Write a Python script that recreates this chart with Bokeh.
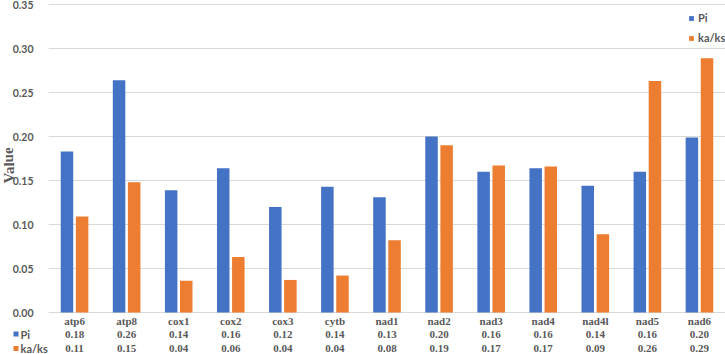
from bokeh.core.properties import value
from bokeh.embed import file_html
from bokeh.layouts import row
from bokeh.models import ColumnDataSource, FactorRange, FixedTicker, Range1d
from bokeh.plotting import figure
from bokeh.resources import INLINE
from bokeh.transform import dodge

# Mitochondrial genes with nucleotide diversity (Pi) and ka/ks ratio
genes = ["atp6", "atp8", "cox1", "cox2", "cox3", "cytb", "nad1",
         "nad2", "nad3", "nad4", "nad4l", "nad5", "nad6"]
pi_values = [0.183, 0.264, 0.139, 0.164, 0.120, 0.143, 0.131,
             0.200, 0.160, 0.164, 0.144, 0.160, 0.199]
kaks_values = [0.109, 0.148, 0.036, 0.063, 0.037, 0.042, 0.082,
               0.190, 0.167, 0.166, 0.089, 0.263, 0.289]
series_names = ["Pi", "ka/ks"]
y_ticks = [0.00, 0.05, 0.10, 0.15, 0.20, 0.25, 0.30, 0.35]

BLUE = "#4472C4"
ORANGE = "#ED7D31"
GREY = "#595959"
SANS = "Lato"
SERIF = "Liberation Serif"

# page geometry (pixels)
TOTAL_W, TOTAL_H = 725, 354
LEFT_W = 48              # strip holding the value labels and row headers
TOP_GAP = 4              # space above the 0.35 grid line
BAR_AREA_H = 308         # height used by the 0 .. 0.35 value span
Y_MAX = 0.35
PX_PER_UNIT = BAR_AREA_H / Y_MAX
Y_TOP = Y_MAX + TOP_GAP / PX_PER_UNIT
Y_BOTTOM = -(TOTAL_H - TOP_GAP - BAR_AREA_H) / PX_PER_UNIT   # room for the table


def below_zero(px):
    """Vertical offset (in pixels under the zero line) as a value coordinate."""
    return -px / PX_PER_UNIT


GENE_ROW, PI_ROW, KAKS_ROW = below_zero(8), below_zero(21.5), below_zero(36)

source = ColumnDataSource(dict(
    gene=genes, pi=pi_values, kaks=kaks_values,
    pi_txt=[f"{v:.2f}" for v in pi_values],
    kaks_txt=[f"{v:.2f}" for v in kaks_values],
))

# ---------------- bar chart with data table underneath ----------------
p = figure(
    x_range=FactorRange(factors=genes),
    y_range=Range1d(Y_BOTTOM, Y_TOP),
    width=TOTAL_W - LEFT_W, height=TOTAL_H,
    output_backend="svg", toolbar_location=None,
    x_axis_location=None, y_axis_location=None,
    min_border=0,
)
p.outline_line_color = None

p.vbar(x=dodge("gene", -0.145, range=p.x_range), top="pi", width=0.24,
       source=source, fill_color=BLUE, line_color=None, legend_label=series_names[0])
p.vbar(x=dodge("gene", 0.145, range=p.x_range), top="kaks", width=0.24,
       source=source, fill_color=ORANGE, line_color=None, legend_label=series_names[1])

for g in p.ygrid:
    g.ticker = FixedTicker(ticks=y_ticks)
    g.grid_line_color = "#d9d9d9"
    g.grid_line_width = 1
for g in p.xgrid:
    g.visible = False

table_style = dict(text_font=value(SERIF), text_font_style="bold",
                   text_font_size="11px", text_color=GREY,
                   text_align="center", text_baseline="middle")
p.text(x="gene", y=GENE_ROW, text="gene", source=source, **table_style)
p.text(x="gene", y=PI_ROW, text="pi_txt", source=source, **table_style)
p.text(x="gene", y=KAKS_ROW, text="kaks_txt", source=source, **table_style)

# legend
leg = p.legend[0]
leg.location = (640, 310)
leg.orientation = "vertical"
leg.glyph_width = 6
leg.glyph_height = 6
leg.label_standoff = 4
leg.spacing = 7
leg.padding = 0
leg.margin = 0
leg.border_line_color = None
leg.background_fill_alpha = 0
leg.label_text_font = SANS
leg.label_text_font_style = "bold"
leg.label_text_font_size = "11px"
leg.label_text_color = GREY

# ---------------- left strip: value labels, axis title, row headers ----------------
strip = figure(
    width=LEFT_W, height=TOTAL_H,
    x_range=Range1d(0, LEFT_W),
    y_range=p.y_range,
    output_backend="svg", toolbar_location=None,
    x_axis_location=None, y_axis_location=None,
    min_border=0,
)
strip.outline_line_color = None
for g in strip.grid:
    g.visible = False

# tick values, aligned with the grid lines of the bar chart
strip.text(x=[33] * len(y_ticks), y=y_ticks, text=[f"{t:.2f}" for t in y_ticks],
           text_font=value(SANS), text_font_style="bold", text_font_size="10.5px",
           text_color=GREY, text_align="right", text_baseline="middle")

# axis title
strip.text(x=[8], y=[Y_MAX / 2 - 7 / PX_PER_UNIT], text=["Value"], angle=1.5708,
           text_font=value(SERIF), text_font_style="bold", text_font_size="15px",
           text_color=GREY, text_align="center", text_baseline="middle")

# row headers of the data table with colour keys
strip.scatter(x=[15.5, 15.5], y=[PI_ROW, KAKS_ROW], marker="square", size=5,
              fill_color=[BLUE, ORANGE], line_color=None)
strip.text(x=[20, 20], y=[PI_ROW, KAKS_ROW], text=series_names,
           text_font=value(SANS), text_font_style="bold", text_font_size="11px",
           text_color=GREY, text_align="left", text_baseline="middle")

layout = row(strip, p, spacing=0)
open("out.html", "w").write(file_html(layout, INLINE))
